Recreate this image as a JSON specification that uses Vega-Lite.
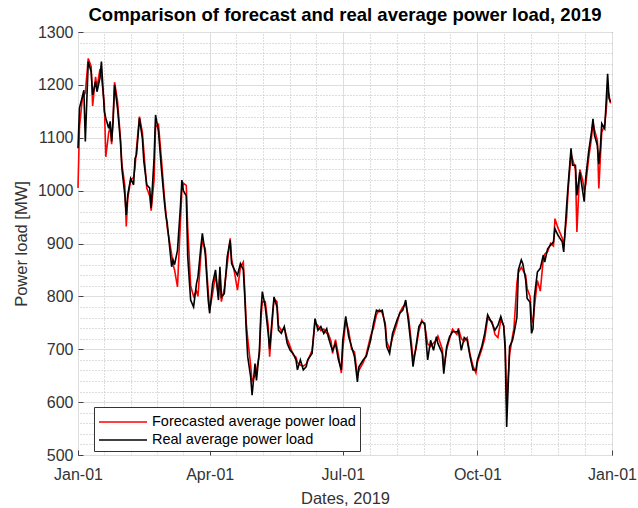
{
"$schema": "https://vega.github.io/schema/vega-lite/v6.json",
"width": 534, "height": 423,
"autosize": {"type": "none"},
"padding": {"left": 78, "top": 32, "right": 26, "bottom": 53},
"background": "white",
"title": {"text": "Comparison of forecast and real average power load, 2019", "fontSize": 18.5, "fontWeight": "bold", "font": "Liberation Sans", "color": "#000", "offset": 0, "anchor": "middle"},
"config": {"view": {"stroke": "#333", "strokeWidth": 1}, "font": "Liberation Sans"},
"data": {"values": [
{"day":0,"real":1080,"forecast":1005},{"day":1,"real":1156,"forecast":1120},{"day":3,"real":1178,"forecast":1175},{"day":4,"real":1190,"forecast":1180},{"day":5,"real":1093,"forecast":1185},{"day":7,"real":1244,"forecast":1250},{"day":9,"real":1225,"forecast":1235},{"day":10,"real":1181,"forecast":1160},{"day":12,"real":1206,"forecast":1215},{"day":13,"real":1187,"forecast":1195},{"day":15,"real":1213,"forecast":1230},{"day":16,"real":1244,"forecast":1215},{"day":18,"real":1150,"forecast":1165},{"day":19,"real":1137,"forecast":1064},{"day":21,"real":1118,"forecast":1110},{"day":22,"real":1131,"forecast":1120},{"day":23,"real":1093,"forecast":1088},{"day":24,"real":1131,"forecast":1140},{"day":25,"real":1200,"forecast":1205},{"day":27,"real":1156,"forecast":1170},{"day":29,"real":1093,"forecast":1100},{"day":30,"real":1042,"forecast":1050},{"day":32,"real":992,"forecast":1010},{"day":33,"real":954,"forecast":932},{"day":34,"real":992,"forecast":985},{"day":36,"real":1023,"forecast":1020},{"day":38,"real":1011,"forecast":1025},{"day":39,"real":1061,"forecast":1045},{"day":40,"real":1068,"forecast":1080},{"day":42,"real":1137,"forecast":1140},{"day":44,"real":1099,"forecast":1110},{"day":45,"real":1055,"forecast":1075},{"day":47,"real":1011,"forecast":1005},{"day":49,"real":1005,"forecast":990},{"day":50,"real":967,"forecast":962},{"day":52,"real":1061,"forecast":1020},{"day":53,"real":1143,"forecast":1120},{"day":55,"real":1112,"forecast":1125},{"day":57,"real":1042,"forecast":1060},{"day":59,"real":980,"forecast":990},{"day":60,"real":954,"forecast":960},{"day":61,"real":938,"forecast":930},{"day":64,"real":856,"forecast":880},{"day":65,"real":869,"forecast":860},{"day":66,"real":860,"forecast":850},{"day":68,"real":887,"forecast":818},{"day":70,"real":969,"forecast":940},{"day":71,"real":1020,"forecast":1000},{"day":72,"real":1000,"forecast":1014},{"day":74,"real":990,"forecast":1010},{"day":75,"real":875,"forecast":930},{"day":77,"real":793,"forecast":820},{"day":79,"real":780,"forecast":800},{"day":81,"real":824,"forecast":810},{"day":82,"real":837,"forecast":800},{"day":84,"real":894,"forecast":880},{"day":85,"real":919,"forecast":905},{"day":87,"real":880,"forecast":890},{"day":89,"real":793,"forecast":810},{"day":90,"real":768,"forecast":775},{"day":92,"real":824,"forecast":805},{"day":94,"real":850,"forecast":840},{"day":96,"real":793,"forecast":800},{"day":97,"real":856,"forecast":845},{"day":98,"real":799,"forecast":790},{"day":100,"real":805,"forecast":815},{"day":102,"real":875,"forecast":860},{"day":104,"real":906,"forecast":910},{"day":105,"real":862,"forecast":870},{"day":107,"real":850,"forecast":845},{"day":109,"real":840,"forecast":812},{"day":111,"real":862,"forecast":855},{"day":113,"real":850,"forecast":865},{"day":114,"real":799,"forecast":810},{"day":115,"real":736,"forecast":750},{"day":116,"real":686,"forecast":720},{"day":118,"real":648,"forecast":670},{"day":119,"real":613,"forecast":640},{"day":121,"real":673,"forecast":650},{"day":122,"real":641,"forecast":660},{"day":124,"real":698,"forecast":690},{"day":125,"real":770,"forecast":755},{"day":126,"real":809,"forecast":790},{"day":128,"real":780,"forecast":790},{"day":130,"real":730,"forecast":745},{"day":131,"real":700,"forecast":686},{"day":133,"real":768,"forecast":760},{"day":134,"real":799,"forecast":795},{"day":136,"real":780,"forecast":790},{"day":137,"real":736,"forecast":745},{"day":139,"real":730,"forecast":735},{"day":141,"real":743,"forecast":740},{"day":143,"real":711,"forecast":720},{"day":145,"real":698,"forecast":705},{"day":147,"real":692,"forecast":690},{"day":149,"real":680,"forecast":685},{"day":150,"real":661,"forecast":675},{"day":152,"real":680,"forecast":670},{"day":154,"real":661,"forecast":668},{"day":156,"real":667,"forecast":672},{"day":157,"real":680,"forecast":678},{"day":160,"real":692,"forecast":698},{"day":162,"real":758,"forecast":750},{"day":164,"real":736,"forecast":745},{"day":166,"real":743,"forecast":735},{"day":168,"real":730,"forecast":738},{"day":170,"real":739,"forecast":730},{"day":171,"real":724,"forecast":730},{"day":173,"real":705,"forecast":715},{"day":174,"real":698,"forecast":692},{"day":176,"real":711,"forecast":718},{"day":178,"real":680,"forecast":690},{"day":180,"real":661,"forecast":655},{"day":181,"real":717,"forecast":700},{"day":183,"real":762,"forecast":755},{"day":185,"real":724,"forecast":735},{"day":187,"real":705,"forecast":700},{"day":189,"real":686,"forecast":695},{"day":191,"real":638,"forecast":650},{"day":192,"real":667,"forecast":660},{"day":195,"real":680,"forecast":675},{"day":197,"real":686,"forecast":690},{"day":200,"real":717,"forecast":725},{"day":202,"real":749,"forecast":740},{"day":204,"real":774,"forecast":765},{"day":206,"real":771,"forecast":775},{"day":208,"real":774,"forecast":768},{"day":210,"real":743,"forecast":750},{"day":211,"real":705,"forecast":715},{"day":213,"real":692,"forecast":700},{"day":215,"real":730,"forecast":722},{"day":218,"real":755,"forecast":748},{"day":220,"real":768,"forecast":770},{"day":222,"real":774,"forecast":780},{"day":224,"real":793,"forecast":785},{"day":226,"real":749,"forecast":760},{"day":228,"real":698,"forecast":710},{"day":229,"real":667,"forecast":680},{"day":231,"real":705,"forecast":700},{"day":233,"real":743,"forecast":735},{"day":235,"real":752,"forecast":755},{"day":237,"real":749,"forecast":745},{"day":239,"real":680,"forecast":710},{"day":241,"real":717,"forecast":705},{"day":243,"real":698,"forecast":712},{"day":245,"real":724,"forecast":718},{"day":246,"real":711,"forecast":725},{"day":249,"real":692,"forecast":700},{"day":250,"real":654,"forecast":665},{"day":252,"real":705,"forecast":700},{"day":254,"real":724,"forecast":720},{"day":256,"real":733,"forecast":738},{"day":259,"real":733,"forecast":728},{"day":260,"real":736,"forecast":740},{"day":262,"real":698,"forecast":720},{"day":264,"real":722,"forecast":715},{"day":266,"real":717,"forecast":722},{"day":268,"real":686,"forecast":690},{"day":270,"real":661,"forecast":668},{"day":272,"real":661,"forecast":655},{"day":273,"real":680,"forecast":675},{"day":276,"real":705,"forecast":700},{"day":278,"real":730,"forecast":720},{"day":280,"real":765,"forecast":758},{"day":283,"real":749,"forecast":752},{"day":285,"real":736,"forecast":728},{"day":287,"real":745,"forecast":722},{"day":289,"real":762,"forecast":755},{"day":291,"real":743,"forecast":745},{"day":292,"real":698,"forecast":710},{"day":293,"real":553,"forecast":600},{"day":295,"real":705,"forecast":690},{"day":297,"real":717,"forecast":725},{"day":298,"real":730,"forecast":740},{"day":300,"real":760,"forecast":825},{"day":301,"real":850,"forecast":845},{"day":303,"real":869,"forecast":855},{"day":304,"real":862,"forecast":850},{"day":306,"real":831,"forecast":840},{"day":307,"real":796,"forecast":815},{"day":309,"real":789,"forecast":800},{"day":310,"real":730,"forecast":760},{"day":311,"real":739,"forecast":750},{"day":312,"real":800,"forecast":780},{"day":314,"real":846,"forecast":830},{"day":316,"real":853,"forecast":810},{"day":318,"real":878,"forecast":870},{"day":319,"real":865,"forecast":880},{"day":321,"real":890,"forecast":885},{"day":323,"real":897,"forecast":900},{"day":325,"real":903,"forecast":895},{"day":326,"real":928,"forecast":947},{"day":328,"real":916,"forecast":930},{"day":331,"real":903,"forecast":910},{"day":332,"real":884,"forecast":895},{"day":334,"real":972,"forecast":950},{"day":335,"real":1010,"forecast":1000},{"day":337,"real":1080,"forecast":1070},{"day":338,"real":1048,"forecast":1060},{"day":340,"real":1048,"forecast":1040},{"day":341,"real":991,"forecast":922},{"day":343,"real":1035,"forecast":1040},{"day":345,"real":998,"forecast":1020},{"day":346,"real":979,"forecast":1000},{"day":347,"real":1023,"forecast":1010},{"day":349,"real":1073,"forecast":1060},{"day":351,"real":1111,"forecast":1100},{"day":352,"real":1136,"forecast":1130},{"day":353,"real":1105,"forecast":1115},{"day":355,"real":1086,"forecast":1095},{"day":356,"real":1050,"forecast":1004},{"day":357,"real":1080,"forecast":1060},{"day":358,"real":1127,"forecast":1110},{"day":360,"real":1117,"forecast":1125},{"day":361,"real":1168,"forecast":1150},{"day":362,"real":1221,"forecast":1190},{"day":363,"real":1174,"forecast":1180},{"day":364,"real":1168,"forecast":1165}
]},
"layer": [
{"mark": {"type": "line", "strokeWidth": 1.6},
 "encoding": {
  "x": {"field": "day", "type": "quantitative", "scale": {"domain": [0, 365], "nice": false, "zero": false},
        "axis": {"orient": "bottom", "values": [0, 90, 181, 273, 365], "labelExpr": "datum.value==0?'Jan-01':datum.value==90?'Apr-01':datum.value==181?'Jul-01':datum.value==273?'Oct-01':'Jan-01'",
                 "title": "Dates, 2019", "titleFontSize": 16.5, "titleFontWeight": "normal", "titleColor": "#333", "titlePadding": 8,
                 "labelFontSize": 16, "labelColor": "#333", "labelPadding": 16, "labelFlush": false,
                 "grid": true, "gridColor": "#dedede", "gridWidth": 1, "domain": false, "tickSize": -5, "tickColor": "#444"}},
  "y": {"field": "forecast", "type": "quantitative", "scale": {"domain": [500, 1300], "nice": false, "zero": false},
        "axis": {"orient": "left", "values": [500, 600, 700, 800, 900, 1000, 1100, 1200, 1300], "format": "d",
                 "title": "Power load [MW]", "titleFontSize": 16.5, "titleFontWeight": "normal", "titleColor": "#333", "titlePadding": 8,
                 "labelFontSize": 16, "labelColor": "#333", "labelPadding": 10, "labelFlush": false,
                 "grid": true, "gridColor": "#dedede", "gridWidth": 1, "domain": false, "tickSize": -5, "tickColor": "#444"}},
  "color": {"datum": "Forecasted average power load", "type": "nominal",
            "scale": {"domain": ["Forecasted average power load", "Real average power load"], "range": ["#ff0000", "#000000"]},
            "legend": {"orient": "none", "legendX": 16, "legendY": 375, "title": null, "symbolType": "M-1,0H3.8", "symbolSize": 400, "symbolStrokeWidth": 1.5,
                       "labelFontSize": 14.5, "labelFont": "Liberation Sans", "labelColor": "#000", "fillColor": "white", "strokeColor": "#333",
                       "padding": 4, "rowPadding": -2, "labelOffset": 32, "labelLimit": 400}}
 }},
{"mark": {"type": "line", "strokeWidth": 1.6},
 "encoding": {
  "x": {"field": "day", "type": "quantitative", "axis": null},
  "y": {"field": "real", "type": "quantitative", "axis": null},
  "color": {"datum": "Real average power load", "type": "nominal"}
 }},
{"mark": {"type": "point", "opacity": 0},
 "encoding": {
  "x": {"field": "day", "type": "quantitative",
        "axis": {"orient": "top", "values": [18, 36, 54, 72, 108.2, 126.4, 144.6, 162.8, 199.4, 217.8, 236.2, 254.6, 291.4, 309.8, 328.2, 346.6],
                 "labels": false, "ticks": false, "domain": false, "title": null, "grid": true, "gridDash": [1, 2], "gridColor": "#bdbdbd", "gridWidth": 1}},
  "y": {"field": "real", "type": "quantitative",
        "axis": {"orient": "right", "values": [520,540,560,580,620,640,660,680,720,740,760,780,820,840,860,880,920,940,960,980,1020,1040,1060,1080,1120,1140,1160,1180,1220,1240,1260,1280],
                 "labels": false, "ticks": false, "domain": false, "title": null, "grid": true, "gridDash": [1, 2], "gridColor": "#bdbdbd", "gridWidth": 1}}
 }}
],
"resolve": {"axis": {"x": "independent", "y": "independent"}}
}
